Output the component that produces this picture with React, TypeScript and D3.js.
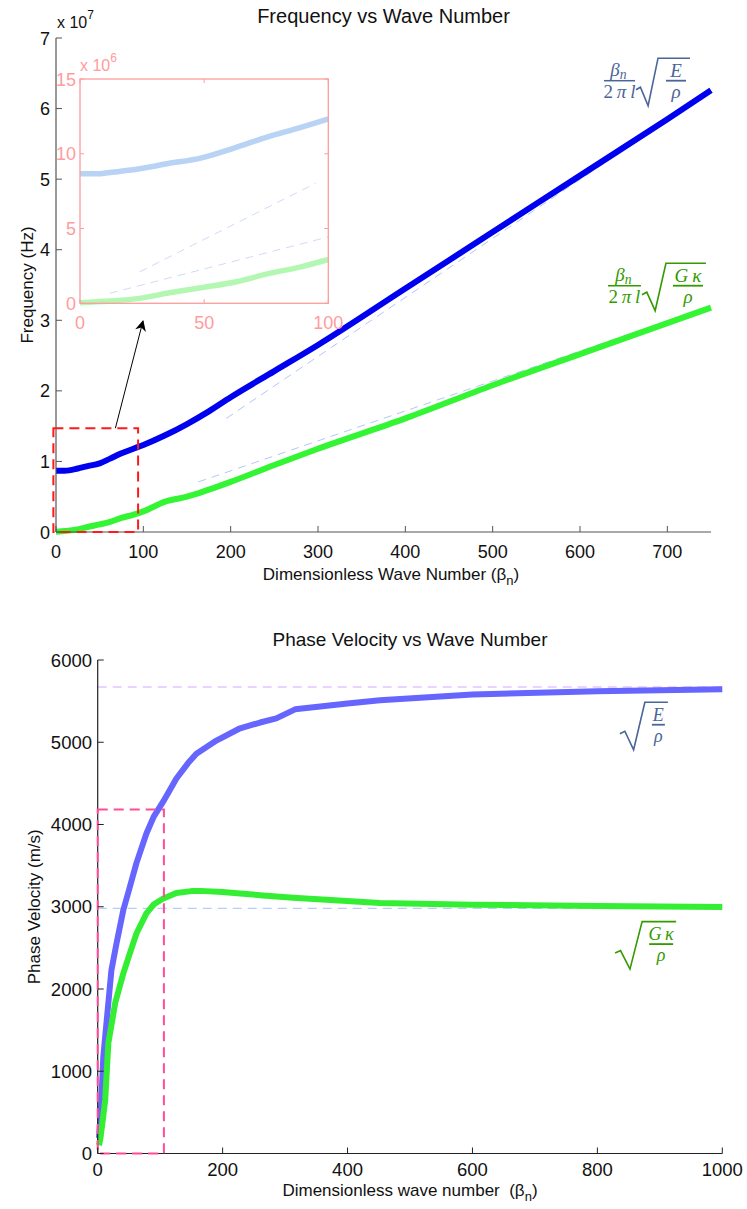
import React, { useEffect, useRef } from "react";
import * as d3 from "d3";

// ---- data ----
// top chart: frequency (x 1e7 Hz) vs dimensionless wave number
const freqBeta = [0, 10, 25, 35, 50, 62, 75, 88, 100, 125, 150, 175, 200, 250, 300, 400, 500, 600, 700, 750];
const freqE = [0.867, 0.868, 0.9, 0.93, 0.973, 1.04, 1.115, 1.177, 1.233, 1.37, 1.53, 1.71, 1.91, 2.28, 2.65, 3.45, 4.25, 5.05, 5.85, 6.26];
const freqG = [0.004, 0.015, 0.035, 0.067, 0.107, 0.144, 0.2, 0.244, 0.293, 0.43, 0.5, 0.6, 0.71, 0.95, 1.18, 1.61, 2.08, 2.52, 2.96, 3.18];
// asymptotes drawn dashed
const asymE: [number, number][] = [[195, 1.61], [750, 6.25]];
const asymG: [number, number][] = [[163, 0.71], [750, 3.2]];

// inset (x 1e6 Hz)
const insetBeta = [0, 7, 11, 24, 35, 49, 62, 75, 89, 100];
const insetE = [8.67, 8.66, 8.73, 9.0, 9.33, 9.73, 10.38, 11.1, 11.77, 12.33];
const insetBetaG = [0, 12, 24, 35, 50, 63, 75, 89, 100];
const insetG = [0.04, 0.15, 0.33, 0.67, 1.07, 1.44, 1.95, 2.44, 2.93];
const insetAsymE: [number, number][] = [[24, 2.1], [95, 8.04]];
const insetAsymG: [number, number][] = [[12, 0.67], [100, 4.44]];

// bottom chart: phase velocity (m/s)
const velBetaE = [2, 5, 9, 22, 30, 41, 50, 62, 78, 90, 105, 126, 145, 158, 190, 228, 260, 286, 316, 400, 452, 600, 800, 1000];
const velE = [190, 500, 1180, 2230, 2550, 2960, 3200, 3530, 3890, 4100, 4280, 4560, 4750, 4860, 5020, 5170, 5240, 5290, 5400, 5470, 5510, 5580, 5620, 5645];
const velBetaG = [2, 4, 8, 12, 17, 28, 41, 50, 62, 78, 90, 105, 126, 150, 164, 200, 228, 270, 313, 452, 600, 800, 1000];
const velG = [100, 165, 400, 650, 1340, 1830, 2190, 2400, 2675, 2920, 3030, 3100, 3168, 3190, 3193, 3180, 3160, 3135, 3110, 3045, 3025, 3010, 2998];
const velLimitE = 5672;
const velLimitG = 2980;

const freqXTicks = [0, 100, 200, 300, 400, 500, 600, 700];
const freqYTicks = [0, 1, 2, 3, 4, 5, 6, 7];
const insetXTicks = [0, 50, 100];
const insetYTicks = [0, 5, 10, 15];
const velXTicks = [0, 200, 400, 600, 800, 1000];
const velYTicks = [0, 1000, 2000, 3000, 4000, 5000, 6000];

// zoom boxes (data coordinates)
const freqZoomBox = { x0: -3, x1: 94, y0: 0, y1: 1.47 };
const velZoomBox = { x0: 0, x1: 106, y0: 0, y1: 4182 };

const SANS = "Liberation Sans, Arial, Helvetica, sans-serif";
const SERIF = "Liberation Serif, DejaVu Serif, serif";

type Sel = d3.Selection<SVGGElement, unknown, null, undefined>;
type MathOpts = { prefix: boolean; fw: number; rw: number; w: number; fs: number };

// sqrt(num/ρ), optionally preceded by β_n / 2πl ; origin = left end of the first fraction bar
function mathLabel(g: Sel, x: number, y: number, color: string, num: string, o: MathOpts) {
  const m = g.append("g").attr("transform", `translate(${x},${y})`).attr("fill", color);
  let rx = 0;
  if (o.prefix) {
    const nt = m.append("text").attr("x", o.fw / 2 - 1).attr("y", -4.5).attr("text-anchor", "middle")
      .attr("font-family", SERIF).attr("font-style", "italic").attr("font-size", o.fs);
    nt.append("tspan").text("β");
    nt.append("tspan").attr("dy", 3).attr("font-size", o.fs * 0.72).text("n");
    m.append("line").attr("x1", 0).attr("x2", o.fw).attr("y1", 0).attr("y2", 0)
      .attr("stroke", color).attr("stroke-width", 1.5);
    const d = m.append("text").attr("x", o.fw / 2).attr("y", 17).attr("text-anchor", "middle")
      .attr("font-family", SERIF).attr("font-size", o.fs).attr("xml:space", "preserve");
    d.append("tspan").text("2\u2009");
    d.append("tspan").attr("font-style", "italic").text("π\u2009l");
    rx = o.fw + 1;
  }
  const rt = -22.5;
  m.append("path")
    .attr("d", `M${rx},9 L${rx + 0.2 * o.rw},6.5 L${rx + 0.55 * o.rw},25 L${rx + o.rw},${rt} L${rx + o.rw + o.w},${rt}`)
    .attr("fill", "none").attr("stroke", color).attr("stroke-width", 1.6).attr("stroke-linejoin", "miter");
  const cx = rx + o.rw + o.w / 2 + 2;
  m.append("text").attr("x", cx).attr("y", -4).attr("text-anchor", "middle").attr("xml:space", "preserve")
    .attr("font-family", SERIF).attr("font-style", "italic").attr("font-size", o.fs).text(num);
  const bw = Math.min(o.w - 10, num.length > 1 ? 31 : 20);
  m.append("line").attr("x1", cx - bw / 2).attr("x2", cx + bw / 2).attr("y1", 0).attr("y2", 0)
    .attr("stroke", color).attr("stroke-width", 1.8);
  m.append("text").attr("x", cx).attr("y", 17).attr("text-anchor", "middle")
    .attr("font-family", SERIF).attr("font-style", "italic").attr("font-size", o.fs).text("ρ");
}

function Charts() {
  const ref = useRef<SVGSVGElement>(null);

  useEffect(() => {
    const svg = d3.select(ref.current);
    svg.selectAll("*").remove();
    const root = svg.append("g") as unknown as Sel;

    const defs = svg.append("defs");
    defs.append("marker").attr("id", "arrowhead").attr("viewBox", "0 0 10 10")
      .attr("refX", 9).attr("refY", 5).attr("markerWidth", 15).attr("markerHeight", 11)
      .attr("markerUnits", "userSpaceOnUse").attr("orient", "auto")
      .append("path").attr("d", "M0,0 L10,5 L0,10 L3,5 Z").attr("fill", "#000");

    const line = (xs: d3.ScaleLinear<number, number>, ys: d3.ScaleLinear<number, number>, smooth = false) =>
      d3.line<[number, number]>().x((d) => xs(d[0])).y((d) => ys(d[1])).curve(smooth ? d3.curveMonotoneX : d3.curveLinear);
    const zip = (a: number[], b: number[]) => a.map((v, i) => [v, b[i]] as [number, number]);

    // ================= top chart =================
    const xF = d3.scaleLinear().domain([0, 750]).range([56, 711]);
    const yF = d3.scaleLinear().domain([0, 7]).range([532, 38]);
    const top = root.append("g");
    const axisTop = "#555";

    [asymE, asymG].forEach((a) =>
      top.append("path").attr("d", line(xF, yF)(a)).attr("fill", "none")
        .attr("stroke", "#b3c6f7").attr("stroke-width", 1).attr("stroke-dasharray", "8,6"));

    top.append("path").attr("d", line(xF, yF, true)(zip(freqBeta, freqE))).attr("fill", "none")
      .attr("stroke", "#0000f0").attr("stroke-width", 6).attr("stroke-linejoin", "round");
    top.append("path").attr("d", line(xF, yF, true)(zip(freqBeta, freqG))).attr("fill", "none")
      .attr("stroke", "#33f533").attr("stroke-width", 6).attr("stroke-linejoin", "round");

    top.append("line").attr("x1", 56).attr("x2", 56).attr("y1", yF(7)).attr("y2", yF(0)).attr("stroke", axisTop).attr("stroke-width", 1.2);
    top.append("line").attr("x1", 56).attr("x2", 711).attr("y1", yF(0)).attr("y2", yF(0)).attr("stroke", axisTop).attr("stroke-width", 1.2);
    freqXTicks.forEach((t) => {
      top.append("line").attr("x1", xF(t)).attr("x2", xF(t)).attr("y1", yF(0)).attr("y2", yF(0) - 6).attr("stroke", axisTop);
      top.append("text").attr("x", xF(t)).attr("y", 558).attr("text-anchor", "middle")
        .attr("font-family", SANS).attr("font-size", 18).attr("fill", "#111").text(t);
    });
    freqYTicks.forEach((t) => {
      top.append("line").attr("x1", 56).attr("x2", 62).attr("y1", yF(t)).attr("y2", yF(t)).attr("stroke", axisTop);
      top.append("text").attr("x", 50).attr("y", yF(t) + 6.5).attr("text-anchor", "end")
        .attr("font-family", SANS).attr("font-size", 18).attr("fill", "#111").text(t);
    });
    const exp7 = top.append("text").attr("x", 57).attr("y", 28).attr("font-family", SANS).attr("font-size", 16).attr("fill", "#111");
    exp7.append("tspan").text("x 10");
    exp7.append("tspan").attr("dy", -9).attr("font-size", 12).text("7");

    top.append("text").attr("x", 383.5).attr("y", 23).attr("text-anchor", "middle")
      .attr("font-family", SANS).attr("font-size", 20).attr("fill", "#111").text("Frequency vs Wave Number");
    const xl = top.append("text").attr("x", 391).attr("y", 580).attr("text-anchor", "middle")
      .attr("font-family", SANS).attr("font-size", 17).attr("fill", "#111");
    xl.append("tspan").text("Dimensionless Wave Number (β");
    xl.append("tspan").attr("dy", 5).attr("font-size", 13).text("n");
    xl.append("tspan").attr("dy", -5).text(")");
    top.append("text").attr("transform", `translate(33,${(yF(0) + yF(7)) / 2}) rotate(-90)`).attr("text-anchor", "middle")
      .attr("font-family", SANS).attr("font-size", 17).attr("fill", "#111").text("Frequency (Hz)");

    top.append("rect").attr("x", xF(freqZoomBox.x0)).attr("y", yF(freqZoomBox.y1))
      .attr("width", xF(freqZoomBox.x1) - xF(freqZoomBox.x0)).attr("height", yF(freqZoomBox.y0) - yF(freqZoomBox.y1))
      .attr("fill", "none").attr("stroke", "#ff1a1a").attr("stroke-width", 2).attr("stroke-dasharray", "10,6");
    top.append("line").attr("x1", xF(68)).attr("y1", yF(freqZoomBox.y1)).attr("x2", 143).attr("y2", 321)
      .attr("stroke", "#000").attr("stroke-width", 1).attr("marker-end", "url(#arrowhead)");

    // inset
    const xI = d3.scaleLinear().domain([0, 100]).range([80, 328.3]);
    const yI = d3.scaleLinear().domain([0, 15]).range([303.3, 79]);
    const ins = top.append("g");
    const pink = "#ff9c9c";
    ins.append("rect").attr("x", xI(0)).attr("y", yI(15)).attr("width", xI(100) - xI(0)).attr("height", yI(0) - yI(15)).attr("fill", "#fff");
    [insetAsymE, insetAsymG].forEach((a) =>
      ins.append("path").attr("d", line(xI, yI)(a)).attr("fill", "none")
        .attr("stroke", "#cfdcf7").attr("stroke-width", 1).attr("stroke-dasharray", "8,6"));
    ins.append("path").attr("d", line(xI, yI, true)(zip(insetBeta, insetE))).attr("fill", "none")
      .attr("stroke", "#b8d3f3").attr("stroke-width", 5.5);
    ins.append("path").attr("d", line(xI, yI, true)(zip(insetBetaG, insetG))).attr("fill", "none")
      .attr("stroke", "#b3f7b3").attr("stroke-width", 5.5);
    ins.append("rect").attr("x", xI(0)).attr("y", yI(15)).attr("width", xI(100) - xI(0)).attr("height", yI(0) - yI(15))
      .attr("fill", "none").attr("stroke", pink).attr("stroke-width", 1.3);
    insetXTicks.forEach((t) => {
      ins.append("line").attr("x1", xI(t)).attr("x2", xI(t)).attr("y1", yI(0)).attr("y2", yI(0) - 4).attr("stroke", pink);
      ins.append("line").attr("x1", xI(t)).attr("x2", xI(t)).attr("y1", yI(15)).attr("y2", yI(15) + 4).attr("stroke", pink);
      ins.append("text").attr("x", xI(t)).attr("y", 329).attr("text-anchor", "middle")
        .attr("font-family", SANS).attr("font-size", 18).attr("fill", pink).text(t);
    });
    insetYTicks.forEach((t) => {
      ins.append("line").attr("x1", xI(0)).attr("x2", xI(0) + 4).attr("y1", yI(t)).attr("y2", yI(t)).attr("stroke", pink);
      ins.append("line").attr("x1", xI(100)).attr("x2", xI(100) - 4).attr("y1", yI(t)).attr("y2", yI(t)).attr("stroke", pink);
      ins.append("text").attr("x", 76).attr("y", yI(t) + 6.5).attr("text-anchor", "end")
        .attr("font-family", SANS).attr("font-size", 18).attr("fill", pink).text(t);
    });
    const exp6 = ins.append("text").attr("x", 80).attr("y", 71).attr("font-family", SANS).attr("font-size", 16).attr("fill", pink);
    exp6.append("tspan").text("x 10");
    exp6.append("tspan").attr("dy", -9).attr("font-size", 12).text("6");

    mathLabel(top, xF(627.5), yF(6.395), "#4a6598", "E", { prefix: true, fw: 31, rw: 22, w: 32, fs: 19 });
    mathLabel(top, xF(632), yF(3.49), "#339a00", "G\u2009κ", { prefix: true, fw: 33, rw: 24, w: 40, fs: 19 });

    // ================= bottom chart =================
    const xP = d3.scaleLinear().domain([0, 1000]).range([97.7, 722.3]);
    const yP = d3.scaleLinear().domain([0, 6000]).range([1153.5, 660]);
    const bot = root.append("g");
    const axisBot = "#222";

    bot.append("line").attr("x1", xP(0)).attr("x2", xP(1000)).attr("y1", yP(velLimitE)).attr("y2", yP(velLimitE))
      .attr("stroke", "#d5a8ff").attr("stroke-width", 1.2).attr("stroke-dasharray", "9,6");
    bot.append("line").attr("x1", xP(0)).attr("x2", xP(1000)).attr("y1", yP(velLimitG)).attr("y2", yP(velLimitG))
      .attr("stroke", "#b8ccff").attr("stroke-width", 1.2).attr("stroke-dasharray", "9,6");

    bot.append("path").attr("d", line(xP, yP)(zip(velBetaE, velE))).attr("fill", "none")
      .attr("stroke", "#6666ff").attr("stroke-width", 6).attr("stroke-linejoin", "round");
    bot.append("path").attr("d", line(xP, yP)(zip(velBetaG, velG))).attr("fill", "none")
      .attr("stroke", "#33ee33").attr("stroke-width", 6).attr("stroke-linejoin", "round");

    bot.append("line").attr("x1", xP(0)).attr("x2", xP(0)).attr("y1", yP(6000)).attr("y2", yP(0)).attr("stroke", axisBot).attr("stroke-width", 1.2);
    bot.append("line").attr("x1", xP(0)).attr("x2", xP(1000)).attr("y1", yP(0)).attr("y2", yP(0)).attr("stroke", axisBot).attr("stroke-width", 1.2);

    bot.append("rect").attr("x", xP(velZoomBox.x0)).attr("y", yP(velZoomBox.y1))
      .attr("width", xP(velZoomBox.x1) - xP(velZoomBox.x0)).attr("height", yP(velZoomBox.y0) - yP(velZoomBox.y1))
      .attr("fill", "none").attr("stroke", "#ff4d9a").attr("stroke-width", 2).attr("stroke-dasharray", "10,6");

    velXTicks.forEach((t) => {
      bot.append("line").attr("x1", xP(t)).attr("x2", xP(t)).attr("y1", yP(0)).attr("y2", yP(0) - 6).attr("stroke", axisBot);
      bot.append("text").attr("x", xP(t)).attr("y", 1176).attr("text-anchor", "middle")
        .attr("font-family", SANS).attr("font-size", 18.5).attr("fill", "#111").text(t);
    });
    velYTicks.forEach((t) => {
      bot.append("line").attr("x1", xP(0)).attr("x2", xP(0) + 6).attr("y1", yP(t)).attr("y2", yP(t)).attr("stroke", axisBot);
      bot.append("text").attr("x", 92).attr("y", yP(t) + 6.5).attr("text-anchor", "end")
        .attr("font-family", SANS).attr("font-size", 18.5).attr("fill", "#111").text(t);
    });

    bot.append("text").attr("x", 410).attr("y", 646).attr("text-anchor", "middle")
      .attr("font-family", SANS).attr("font-size", 19).attr("fill", "#111").text("Phase Velocity vs Wave Number");
    const xl2 = bot.append("text").attr("x", 410).attr("y", 1196).attr("text-anchor", "middle")
      .attr("font-family", SANS).attr("font-size", 17).attr("fill", "#111").attr("xml:space", "preserve");
    xl2.append("tspan").text("Dimensionless wave number\u00a0 (β");
    xl2.append("tspan").attr("dy", 5).attr("font-size", 13).text("n");
    xl2.append("tspan").attr("dy", -5).text(")");
    bot.append("text").attr("transform", `translate(40,${(yP(0) + yP(6000)) / 2}) rotate(-90)`).attr("text-anchor", "middle")
      .attr("font-family", SANS).attr("font-size", 17).attr("fill", "#111").text("Phase Velocity (m/s)");

    mathLabel(bot, xP(836), yP(5213), "#4a6598", "E", { prefix: false, fw: 0, rw: 25, w: 23, fs: 18 });
    mathLabel(bot, xP(828.4), yP(2546), "#339a00", "G\u2009κ", { prefix: false, fw: 0, rw: 27, w: 34, fs: 18 });
  }, []);

  return <svg ref={ref} width={747} height={1209} style={{ position: "absolute", left: 0, top: 0, background: "#fff" }} />;
}

export default function App() {
  return <Charts />;
}
